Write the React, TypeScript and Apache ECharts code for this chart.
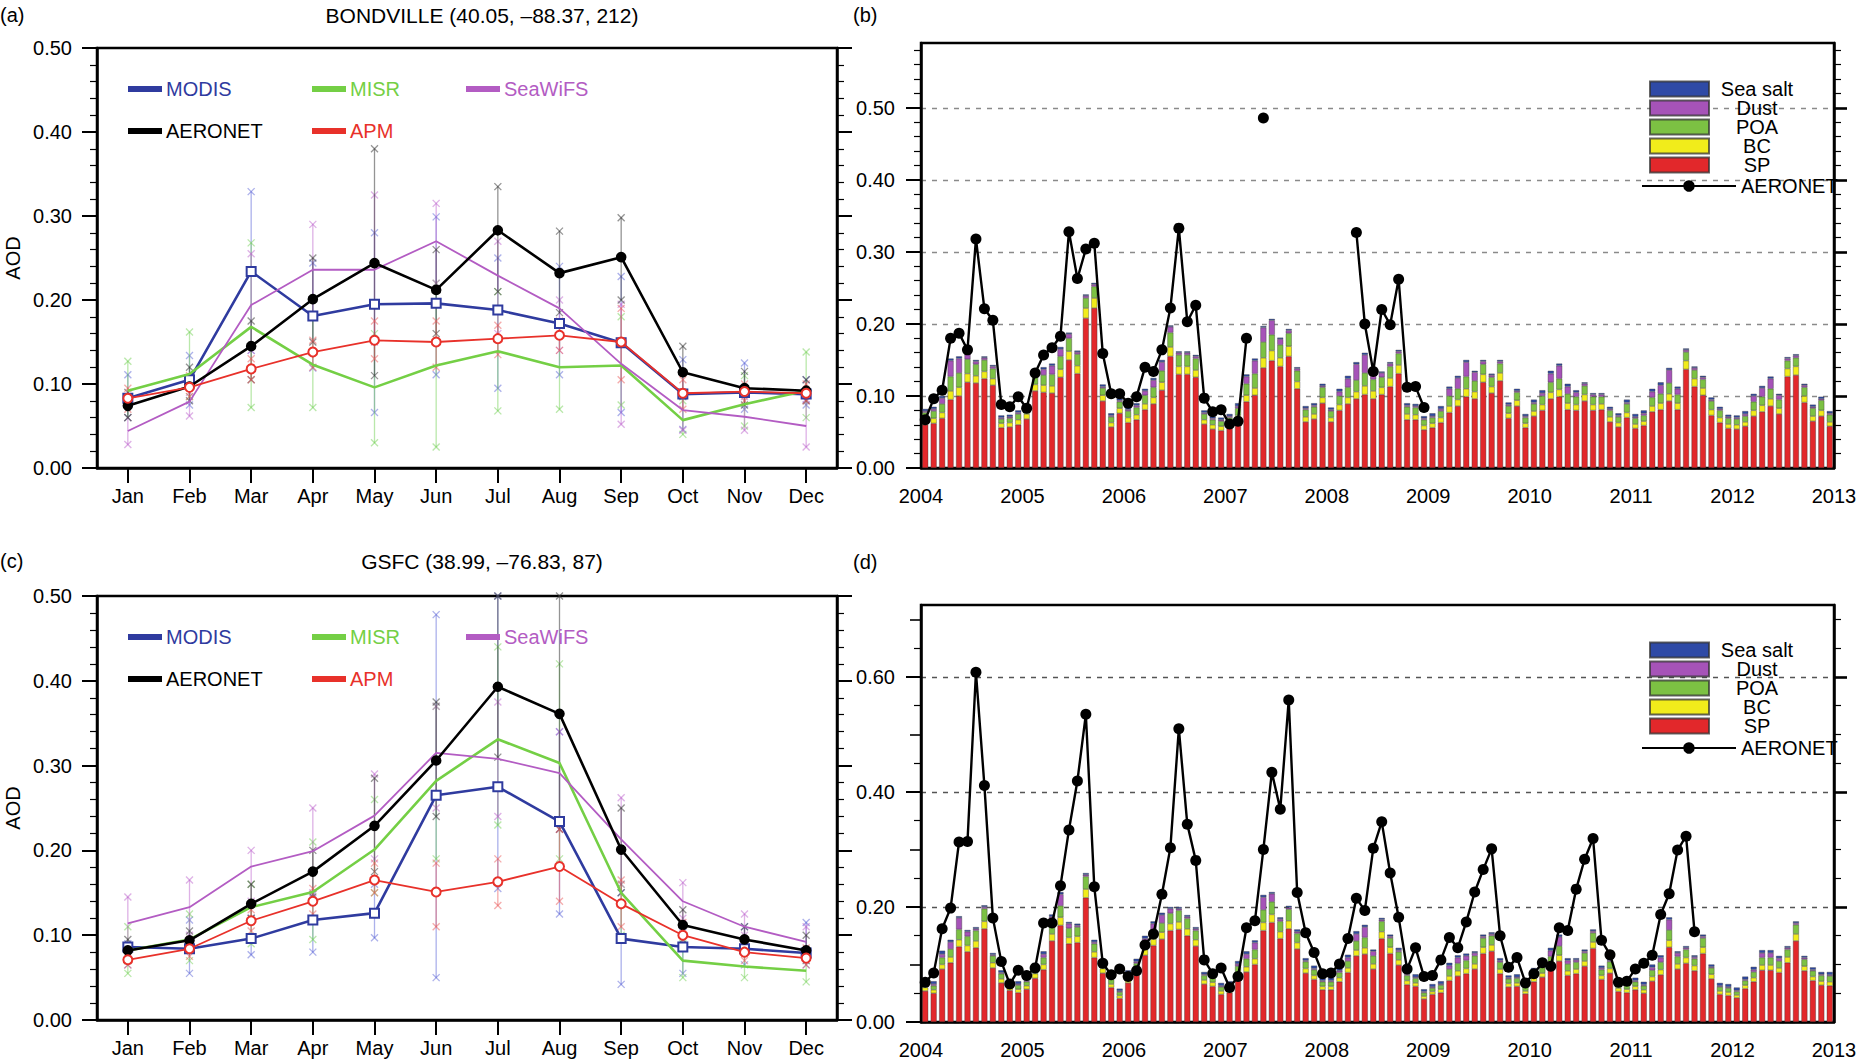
import React, { useEffect, useRef } from "react";
import * as echarts from "echarts";

const FONT = '"Liberation Sans", Arial, Helvetica, sans-serif';

// ---------- categories ----------
const MONTHS = ["Jan", "Feb", "Mar", "Apr", "May", "Jun", "Jul", "Aug", "Sep", "Oct", "Nov", "Dec"];
const YEARS = [2004, 2005, 2006, 2007, 2008, 2009, 2010, 2011, 2012];
const YEAR_MONTHS = YEARS.flatMap((y) => MONTHS.map((m) => `${m} ${y}`));

// ---------- panel (a) BONDVILLE monthly climatology ----------
const A_MODIS = [0.083, 0.105, 0.234, 0.181, 0.195, 0.196, 0.188, 0.172, 0.149, 0.088, 0.09, 0.088];
const A_MISR = [0.092, 0.112, 0.168, 0.123, 0.096, 0.122, 0.139, 0.12, 0.122, 0.057, 0.076, 0.092];
const A_SEAWIFS = [0.044, 0.079, 0.194, 0.236, 0.236, 0.27, 0.229, 0.19, 0.124, 0.069, 0.061, 0.05];
const A_AERONET = [0.074, 0.097, 0.145, 0.201, 0.244, 0.212, 0.283, 0.232, 0.251, 0.114, 0.095, 0.092];
const A_APM = [0.083, 0.096, 0.118, 0.138, 0.152, 0.15, 0.154, 0.158, 0.15, 0.089, 0.091, 0.089];

const A_MODIS_LO = [0.06, 0.075, 0.14, 0.119, 0.066, 0.111, 0.095, 0.111, 0.066, 0.046, 0.07, 0.075];
const A_MODIS_HI = [0.111, 0.134, 0.329, 0.244, 0.28, 0.299, 0.25, 0.24, 0.228, 0.129, 0.125, 0.105];
const A_MISR_LO = [0.06, 0.085, 0.072, 0.072, 0.03, 0.025, 0.068, 0.07, 0.075, 0.04, 0.05, 0.06];
const A_MISR_HI = [0.127, 0.162, 0.268, 0.18, 0.16, 0.22, 0.21, 0.17, 0.18, 0.08, 0.11, 0.138];
const A_SEAWIFS_LO = [0.028, 0.062, 0.14, 0.18, 0.15, 0.22, 0.16, 0.14, 0.052, 0.045, 0.045, 0.025];
const A_SEAWIFS_HI = [0.06, 0.09, 0.255, 0.29, 0.325, 0.315, 0.27, 0.2, 0.195, 0.09, 0.085, 0.082];
const A_AERONET_LO = [0.06, 0.08, 0.105, 0.15, 0.11, 0.16, 0.21, 0.185, 0.2, 0.085, 0.075, 0.08];
const A_AERONET_HI = [0.09, 0.12, 0.175, 0.25, 0.38, 0.26, 0.335, 0.282, 0.298, 0.145, 0.115, 0.105];
const A_APM_LO = [0.07, 0.085, 0.105, 0.12, 0.13, 0.12, 0.135, 0.14, 0.105, 0.07, 0.08, 0.08];
const A_APM_HI = [0.095, 0.11, 0.13, 0.152, 0.175, 0.175, 0.17, 0.175, 0.19, 0.105, 0.1, 0.1];

// ---------- panel (c) GSFC monthly climatology ----------
const C_MODIS = [0.086, 0.084, 0.096, 0.118, 0.126, 0.265, 0.275, 0.234, 0.096, 0.086, 0.084, 0.079];
const C_MISR = [0.082, 0.095, 0.133, 0.151, 0.201, 0.282, 0.331, 0.303, 0.15, 0.07, 0.063, 0.058];
const C_SEAWIFS = [0.114, 0.133, 0.181, 0.199, 0.241, 0.315, 0.308, 0.291, 0.213, 0.14, 0.11, 0.092];
const C_AERONET = [0.082, 0.094, 0.137, 0.175, 0.229, 0.306, 0.393, 0.361, 0.201, 0.112, 0.095, 0.082];
const C_APM = [0.071, 0.084, 0.117, 0.14, 0.165, 0.151, 0.163, 0.181, 0.137, 0.1, 0.08, 0.073];

const C_MODIS_LO = [0.065, 0.055, 0.077, 0.08, 0.097, 0.05, 0.155, 0.125, 0.042, 0.055, 0.065, 0.065];
const C_MODIS_HI = [0.09, 0.118, 0.12, 0.148, 0.16, 0.478, 0.5, 0.34, 0.15, 0.11, 0.11, 0.115];
const C_MISR_LO = [0.055, 0.07, 0.09, 0.095, 0.15, 0.19, 0.23, 0.19, 0.1, 0.05, 0.05, 0.045];
const C_MISR_HI = [0.11, 0.125, 0.16, 0.21, 0.26, 0.37, 0.44, 0.42, 0.16, 0.09, 0.08, 0.075];
const C_SEAWIFS_LO = [0.085, 0.1, 0.14, 0.15, 0.19, 0.25, 0.24, 0.225, 0.16, 0.12, 0.1, 0.08];
const C_SEAWIFS_HI = [0.145, 0.165, 0.2, 0.25, 0.29, 0.37, 0.375, 0.34, 0.262, 0.162, 0.125, 0.11];
const C_AERONET_LO = [0.07, 0.085, 0.12, 0.145, 0.175, 0.24, 0.31, 0.225, 0.15, 0.095, 0.085, 0.07];
const C_AERONET_HI = [0.095, 0.105, 0.16, 0.2, 0.285, 0.375, 0.5, 0.5, 0.25, 0.13, 0.11, 0.1];
const C_APM_LO = [0.065, 0.075, 0.105, 0.125, 0.15, 0.11, 0.135, 0.14, 0.11, 0.085, 0.07, 0.065];
const C_APM_HI = [0.08, 0.095, 0.13, 0.155, 0.185, 0.185, 0.19, 0.225, 0.165, 0.115, 0.095, 0.085];

// ---------- panel (b) BONDVILLE monthly 2004-2012 ----------
const B_SP = [
  0.06, 0.062, 0.069, 0.095, 0.1, 0.119, 0.118, 0.124, 0.115, 0.056, 0.057, 0.06,
  0.068, 0.107, 0.105, 0.104, 0.126, 0.15, 0.131, 0.208, 0.222, 0.093, 0.057, 0.076,
  0.063, 0.067, 0.081, 0.089, 0.108, 0.155, 0.13, 0.13, 0.126, 0.061, 0.054, 0.052,
  0.056, 0.066, 0.092, 0.101, 0.139, 0.149, 0.141, 0.155, 0.11, 0.064, 0.068, 0.09,
  0.064, 0.08, 0.089, 0.096, 0.102, 0.096, 0.102, 0.113, 0.131, 0.067, 0.067, 0.053,
  0.056, 0.063, 0.077, 0.086, 0.099, 0.096, 0.119, 0.104, 0.121, 0.069, 0.086, 0.056,
  0.072, 0.08, 0.096, 0.099, 0.081, 0.08, 0.093, 0.08, 0.081, 0.064, 0.057, 0.07,
  0.055, 0.059, 0.078, 0.081, 0.093, 0.081, 0.137, 0.113, 0.101, 0.073, 0.063, 0.055,
  0.054, 0.058, 0.072, 0.078, 0.086, 0.075, 0.127, 0.129, 0.091, 0.065, 0.072, 0.058,
];
const B_BC = [
  0.007, 0.007, 0.008, 0.012, 0.012, 0.012, 0.01, 0.01, 0.009, 0.006, 0.006, 0.007,
  0.007, 0.009, 0.01, 0.01, 0.011, 0.012, 0.011, 0.014, 0.014, 0.008, 0.006, 0.007,
  0.007, 0.007, 0.008, 0.009, 0.011, 0.013, 0.011, 0.011, 0.01, 0.006, 0.006, 0.006,
  0.006, 0.007, 0.009, 0.01, 0.014, 0.014, 0.012, 0.014, 0.01, 0.007, 0.007, 0.008,
  0.006, 0.008, 0.009, 0.01, 0.012, 0.011, 0.01, 0.012, 0.012, 0.008, 0.007, 0.006,
  0.006, 0.007, 0.009, 0.009, 0.011, 0.01, 0.011, 0.009, 0.011, 0.007, 0.008, 0.006,
  0.007, 0.008, 0.009, 0.01, 0.009, 0.008, 0.009, 0.008, 0.008, 0.007, 0.006, 0.007,
  0.006, 0.006, 0.008, 0.009, 0.01, 0.009, 0.012, 0.011, 0.01, 0.008, 0.007, 0.006,
  0.006, 0.006, 0.008, 0.009, 0.01, 0.008, 0.011, 0.012, 0.009, 0.007, 0.008, 0.006,
];
const B_POA = [
  0.01, 0.01, 0.012, 0.02, 0.02, 0.02, 0.016, 0.016, 0.014, 0.006, 0.006, 0.008,
  0.008, 0.012, 0.014, 0.016, 0.018, 0.018, 0.016, 0.014, 0.016, 0.01, 0.008, 0.009,
  0.009, 0.01, 0.012, 0.014, 0.016, 0.02, 0.016, 0.016, 0.016, 0.008, 0.007, 0.007,
  0.008, 0.01, 0.016, 0.02, 0.022, 0.022, 0.018, 0.018, 0.015, 0.01, 0.01, 0.014,
  0.009, 0.012, 0.014, 0.016, 0.018, 0.016, 0.014, 0.016, 0.016, 0.01, 0.01, 0.008,
  0.008, 0.009, 0.014, 0.015, 0.017, 0.015, 0.014, 0.013, 0.013, 0.01, 0.011, 0.008,
  0.01, 0.012, 0.014, 0.015, 0.013, 0.011, 0.012, 0.011, 0.01, 0.009, 0.008, 0.012,
  0.008, 0.008, 0.012, 0.013, 0.015, 0.012, 0.012, 0.012, 0.012, 0.012, 0.01, 0.008,
  0.008, 0.008, 0.012, 0.012, 0.014, 0.012, 0.011, 0.012, 0.012, 0.011, 0.014, 0.01,
];
const B_DUST = [
  0.002, 0.003, 0.008, 0.022, 0.02, 0.012, 0.004, 0.003, 0.003, 0.002, 0.002, 0.002,
  0.002, 0.004, 0.008, 0.012, 0.01, 0.006, 0.003, 0.003, 0.003, 0.002, 0.002, 0.002,
  0.002, 0.003, 0.006, 0.01, 0.012, 0.008, 0.003, 0.003, 0.003, 0.002, 0.002, 0.002,
  0.002, 0.003, 0.01, 0.018, 0.02, 0.02, 0.008, 0.004, 0.003, 0.002, 0.002, 0.002,
  0.002, 0.006, 0.012, 0.022, 0.025, 0.015, 0.006, 0.004, 0.003, 0.002, 0.002, 0.002,
  0.002, 0.003, 0.01, 0.015, 0.02, 0.012, 0.004, 0.003, 0.003, 0.002, 0.002, 0.002,
  0.002, 0.004, 0.012, 0.018, 0.01, 0.006, 0.003, 0.003, 0.003, 0.002, 0.002, 0.002,
  0.002, 0.003, 0.008, 0.012, 0.018, 0.008, 0.003, 0.003, 0.003, 0.002, 0.002, 0.002,
  0.002, 0.003, 0.008, 0.012, 0.014, 0.006, 0.003, 0.003, 0.003, 0.002, 0.002, 0.002,
];
const B_SS = [
  0.003, 0.003, 0.003, 0.003, 0.003, 0.002, 0.002, 0.002, 0.002, 0.003, 0.003, 0.003,
  0.003, 0.003, 0.003, 0.003, 0.003, 0.002, 0.002, 0.002, 0.002, 0.003, 0.003, 0.003,
  0.004, 0.003, 0.003, 0.003, 0.003, 0.002, 0.002, 0.002, 0.002, 0.003, 0.003, 0.003,
  0.003, 0.004, 0.003, 0.003, 0.002, 0.002, 0.002, 0.002, 0.002, 0.003, 0.003, 0.003,
  0.003, 0.004, 0.004, 0.003, 0.003, 0.002, 0.002, 0.002, 0.002, 0.003, 0.003, 0.003,
  0.004, 0.004, 0.003, 0.003, 0.003, 0.002, 0.002, 0.002, 0.002, 0.003, 0.003, 0.003,
  0.004, 0.004, 0.004, 0.003, 0.004, 0.003, 0.002, 0.002, 0.002, 0.003, 0.003, 0.004,
  0.004, 0.004, 0.004, 0.004, 0.003, 0.003, 0.002, 0.002, 0.002, 0.003, 0.003, 0.003,
  0.003, 0.004, 0.003, 0.003, 0.003, 0.002, 0.002, 0.002, 0.002, 0.003, 0.003, 0.003,
];
const B_AERONET = [
  0.067, 0.096, 0.108, 0.18, 0.187, 0.164, 0.318, 0.221, 0.205, 0.088, 0.085, 0.099,
  0.083, 0.132, 0.157, 0.167, 0.183, 0.328, 0.263, 0.304, 0.312, 0.159, 0.103, 0.103,
  0.09, 0.099, 0.14, 0.134, 0.164, 0.222, 0.333, 0.203, 0.226, 0.097, 0.078, 0.081,
  0.061, 0.065, 0.18, null, 0.486, null, null, null, null, null, null, null,
  null, null, null, 0.327, 0.2, 0.134, 0.22, 0.199, 0.262, 0.112, 0.113, 0.084,
  null, null, null, null, null, null, null, null, null, null, null, null,
  null, null, null, null, null, null, null, null, null, null, null, null,
  null, null, null, null, null, null, null, null, null, null, null, null,
  null, null, null, null, null, null, null, null, null, null, null, null,
];

// ---------- panel (d) GSFC monthly 2004-2012 ----------
const D_SP = [
  0.054, 0.05, 0.092, 0.103, 0.131, 0.122, 0.129, 0.162, 0.094, 0.068, 0.055, 0.051,
  0.057, 0.076, 0.091, 0.141, 0.168, 0.136, 0.138, 0.216, 0.112, 0.085, 0.06, 0.041,
  0.068, 0.084, 0.116, 0.133, 0.144, 0.159, 0.161, 0.15, 0.132, 0.066, 0.062, 0.048,
  0.051, 0.077, 0.087, 0.1, 0.159, 0.173, 0.145, 0.162, 0.127, 0.085, 0.074, 0.056,
  0.056, 0.07, 0.086, 0.115, 0.118, 0.092, 0.145, 0.119, 0.099, 0.065, 0.062, 0.04,
  0.048, 0.051, 0.072, 0.08, 0.084, 0.092, 0.119, 0.123, 0.084, 0.061, 0.062, 0.049,
  0.07, 0.078, 0.092, 0.106, 0.081, 0.084, 0.097, 0.128, 0.074, 0.085, 0.053, 0.051,
  0.056, 0.05, 0.071, 0.082, 0.13, 0.092, 0.102, 0.089, 0.119, 0.075, 0.048, 0.046,
  0.042, 0.058, 0.07, 0.09, 0.09, 0.086, 0.103, 0.141, 0.089, 0.072, 0.064, 0.063,
];
const D_BC = [
  0.006, 0.006, 0.008, 0.01, 0.012, 0.011, 0.012, 0.013, 0.009, 0.007, 0.006, 0.006,
  0.006, 0.008, 0.009, 0.012, 0.014, 0.011, 0.011, 0.015, 0.01, 0.008, 0.006, 0.005,
  0.007, 0.008, 0.01, 0.011, 0.012, 0.012, 0.013, 0.012, 0.011, 0.007, 0.007, 0.006,
  0.006, 0.008, 0.009, 0.01, 0.014, 0.014, 0.012, 0.014, 0.011, 0.008, 0.007, 0.006,
  0.006, 0.007, 0.008, 0.01, 0.011, 0.009, 0.012, 0.011, 0.009, 0.007, 0.006, 0.005,
  0.005, 0.006, 0.008, 0.009, 0.009, 0.009, 0.011, 0.011, 0.008, 0.006, 0.006, 0.005,
  0.007, 0.007, 0.009, 0.01, 0.008, 0.008, 0.009, 0.011, 0.007, 0.008, 0.006, 0.006,
  0.006, 0.006, 0.008, 0.009, 0.012, 0.009, 0.01, 0.009, 0.011, 0.008, 0.006, 0.006,
  0.005, 0.006, 0.007, 0.009, 0.009, 0.008, 0.01, 0.012, 0.008, 0.007, 0.007, 0.007,
];
const D_POA = [
  0.007, 0.007, 0.012, 0.014, 0.018, 0.016, 0.018, 0.022, 0.012, 0.009, 0.007, 0.007,
  0.007, 0.01, 0.012, 0.016, 0.02, 0.016, 0.016, 0.022, 0.014, 0.01, 0.008, 0.006,
  0.008, 0.01, 0.013, 0.015, 0.016, 0.018, 0.02, 0.018, 0.016, 0.008, 0.008, 0.007,
  0.007, 0.012, 0.014, 0.016, 0.022, 0.022, 0.018, 0.02, 0.016, 0.012, 0.01, 0.008,
  0.008, 0.009, 0.012, 0.016, 0.018, 0.014, 0.018, 0.016, 0.014, 0.009, 0.008, 0.006,
  0.006, 0.007, 0.012, 0.013, 0.014, 0.014, 0.016, 0.016, 0.012, 0.008, 0.008, 0.007,
  0.009, 0.01, 0.013, 0.016, 0.012, 0.012, 0.014, 0.016, 0.01, 0.012, 0.008, 0.007,
  0.008, 0.007, 0.011, 0.013, 0.018, 0.013, 0.014, 0.012, 0.016, 0.011, 0.007, 0.007,
  0.006, 0.008, 0.01, 0.013, 0.013, 0.012, 0.013, 0.016, 0.012, 0.01, 0.01, 0.01,
];
const D_DUST = [
  0.002, 0.003, 0.006, 0.012, 0.02, 0.008, 0.003, 0.003, 0.002, 0.002, 0.002, 0.002,
  0.002, 0.004, 0.006, 0.014, 0.02, 0.008, 0.003, 0.003, 0.003, 0.002, 0.002, 0.002,
  0.002, 0.003, 0.006, 0.012, 0.014, 0.008, 0.003, 0.003, 0.003, 0.002, 0.002, 0.002,
  0.002, 0.004, 0.008, 0.012, 0.022, 0.014, 0.004, 0.003, 0.003, 0.002, 0.002, 0.002,
  0.002, 0.003, 0.006, 0.012, 0.018, 0.008, 0.003, 0.003, 0.003, 0.002, 0.002, 0.002,
  0.002, 0.002, 0.006, 0.01, 0.008, 0.005, 0.003, 0.003, 0.003, 0.002, 0.002, 0.002,
  0.002, 0.003, 0.01, 0.016, 0.006, 0.004, 0.003, 0.003, 0.003, 0.002, 0.002, 0.002,
  0.002, 0.002, 0.005, 0.008, 0.018, 0.006, 0.003, 0.003, 0.003, 0.002, 0.002, 0.002,
  0.002, 0.002, 0.004, 0.008, 0.008, 0.005, 0.003, 0.003, 0.003, 0.002, 0.002, 0.002,
];
const D_SS = [
  0.005, 0.005, 0.006, 0.004, 0.003, 0.003, 0.003, 0.003, 0.003, 0.004, 0.004, 0.005,
  0.005, 0.005, 0.005, 0.004, 0.004, 0.003, 0.003, 0.003, 0.004, 0.005, 0.005, 0.004,
  0.005, 0.005, 0.005, 0.004, 0.004, 0.003, 0.003, 0.003, 0.003, 0.004, 0.005, 0.005,
  0.005, 0.005, 0.005, 0.004, 0.004, 0.003, 0.003, 0.003, 0.004, 0.004, 0.005, 0.005,
  0.005, 0.005, 0.005, 0.005, 0.004, 0.003, 0.003, 0.003, 0.004, 0.004, 0.005, 0.004,
  0.005, 0.005, 0.005, 0.004, 0.004, 0.003, 0.003, 0.003, 0.004, 0.004, 0.005, 0.005,
  0.006, 0.005, 0.005, 0.004, 0.004, 0.003, 0.003, 0.003, 0.004, 0.004, 0.005, 0.005,
  0.005, 0.005, 0.005, 0.004, 0.004, 0.003, 0.003, 0.003, 0.003, 0.004, 0.005, 0.005,
  0.005, 0.005, 0.005, 0.005, 0.005, 0.004, 0.003, 0.003, 0.003, 0.004, 0.004, 0.005,
];
const D_AERONET = [
  0.069, 0.085, 0.162, 0.198, 0.313, 0.314, 0.608, 0.411, 0.181, 0.105, 0.066, 0.09,
  0.081, 0.094, 0.172, 0.172, 0.237, 0.334, 0.419, 0.535, 0.235, 0.102, 0.082, 0.092,
  0.079, 0.089, 0.134, 0.153, 0.222, 0.303, 0.51, 0.344, 0.281, 0.108, 0.084, 0.094,
  0.06, 0.079, 0.164, 0.176, 0.3, 0.434, 0.37, 0.56, 0.225, 0.155, 0.121, 0.084,
  0.085, 0.101, 0.145, 0.215, 0.194, 0.302, 0.348, 0.259, 0.182, 0.092, 0.129, 0.079,
  0.081, 0.108, 0.147, 0.129, 0.174, 0.226, 0.265, 0.301, 0.15, 0.095, 0.112, 0.068,
  0.084, 0.103, 0.097, 0.164, 0.159, 0.231, 0.283, 0.319, 0.142, 0.117, 0.069, 0.071,
  0.092, 0.102, 0.116, 0.187, 0.223, 0.299, 0.323, 0.157, null, null, null, null,
  null, null, null, null, null, null, null, null, null, null, null, null,
];

// ---------- tick labels ----------
const AC_TICKS = [0, 0.1, 0.2, 0.3, 0.4, 0.5];
const B_TICKS = [0, 0.1, 0.2, 0.3, 0.4, 0.5];
const D_TICKS = [0, 0.2, 0.4, 0.6];

// ---------- styles ----------
const SAT_STYLE = [
  { name: "MODIS", color: "#2f3b9f", err: "rgba(90,100,215,0.5)", width: 2.6, symbol: "emptyRect", size: 9 },
  { name: "MISR", color: "#74cf45", err: "rgba(115,210,85,0.5)", width: 2.6, symbol: "none", size: 0 },
  { name: "SeaWiFS", color: "#b35cc3", err: "rgba(190,100,205,0.5)", width: 1.8, symbol: "none", size: 0 },
  { name: "AERONET", color: "#000000", err: "rgba(60,60,60,0.55)", width: 2.6, symbol: "circle", size: 9 },
  { name: "APM", color: "#e8312a", err: "rgba(235,90,90,0.5)", width: 1.8, symbol: "emptyCircle", size: 9 },
];
const COMP_STYLE = [
  { name: "SP", color: "#e2282b" },
  { name: "BC", color: "#f1ec1b" },
  { name: "POA", color: "#7cc143" },
  { name: "Dust", color: "#a653b8" },
  { name: "Sea salt", color: "#2f4aa6" },
];

const fmt2 = (v: number) => v.toFixed(2);
const steps = (step: number, max: number, skip: number) => {
  const out: number[] = [];
  for (let k = 1; k * step <= max + 1e-9; k++) {
    const v = Number((k * step).toFixed(3));
    if (skip > 0 && Math.abs(v / skip - Math.round(v / skip)) < 1e-6) continue;
    out.push(v);
  }
  return out;
};

const errRender = (color: string) => (params: any, api: any) => {
  const i = api.value(0);
  const p1 = api.coord([i, api.value(1)]);
  const p2 = api.coord([i, api.value(2)]);
  const s = 3.5;
  const st = { stroke: color, lineWidth: 1.3, fill: null };
  const cross = (p: number[]) => [
    { type: "line", shape: { x1: p[0] - s, y1: p[1] - s, x2: p[0] + s, y2: p[1] + s }, style: st },
    { type: "line", shape: { x1: p[0] - s, y1: p[1] + s, x2: p[0] + s, y2: p[1] - s }, style: st },
  ];
  return {
    type: "group",
    children: [
      { type: "line", shape: { x1: p1[0], y1: p1[1], x2: p2[0], y2: p2[1] }, style: st },
      ...cross(p1),
      ...cross(p2),
    ],
  };
};

function buildOption() {
  const black = "#000";
  const axisLine = { show: true, lineStyle: { color: black, width: 2.5 } };

  const monthAxis = (gridIndex: number) => ({
    gridIndex,
    type: "category",
    data: MONTHS,
    boundaryGap: true,
    axisLine,
    axisTick: { show: true, alignWithLabel: true, length: 15, lineStyle: { color: black, width: 2 } },
    axisLabel: { fontSize: 20, color: black, margin: 18, fontFamily: FONT },
    splitLine: { show: false },
  });
  const barCatAxis = (gridIndex: number) => ({
    gridIndex,
    type: "category",
    data: YEAR_MONTHS,
    boundaryGap: true,
    position: "bottom",
    axisLine,
    axisTick: { show: false },
    axisLabel: { show: false },
    splitLine: { show: false },
  });
  const yearAxis = (gridIndex: number) => ({
    gridIndex,
    type: "value",
    min: 2004,
    max: 2013,
    interval: 1,
    position: "bottom",
    axisLine: { show: false },
    axisTick: { show: false },
    splitLine: { show: false },
    axisLabel: { fontSize: 20, color: black, margin: 18, fontFamily: FONT, formatter: (v: number) => String(Math.round(v)) },
  });

  const acAxes = (gridIndex: number) => [
    {
      gridIndex,
      type: "value",
      position: "left",
      min: 0,
      max: 0.5,
      interval: 0.1,
      axisLine,
      axisTick: { show: true, length: 15, lineStyle: { color: black, width: 2 } },
      minorTick: { show: true, splitNumber: 5, length: 7, lineStyle: { color: black, width: 1.2 } },
      splitLine: { show: false },
      axisLabel: { fontSize: 20, color: black, margin: 25, fontFamily: FONT, formatter: fmt2, customValues: AC_TICKS },
      name: "AOD",
      nameLocation: "middle",
      nameGap: 74,
      nameTextStyle: { fontSize: 20, color: black, fontFamily: FONT },
    },
    {
      gridIndex,
      type: "value",
      position: "right",
      min: 0,
      max: 0.5,
      interval: 0.1,
      axisLine,
      axisTick: { show: true, length: 15, lineStyle: { color: black, width: 2 } },
      minorTick: { show: true, splitNumber: 5, length: 7, lineStyle: { color: black, width: 1.2 } },
      splitLine: { show: false },
      axisLabel: { show: false },
    },
  ];

  const tickAxis = (gridIndex: number, position: string, max: number, interval: number, values: number[], length: number, width: number, line: boolean) => ({
    gridIndex,
    type: "value",
    position,
    min: 0,
    max,
    interval,
    axisLine: line ? axisLine : { show: false },
    axisTick: { show: true, length, customValues: values, lineStyle: { color: black, width } },
    axisLabel: { show: false },
    splitLine: { show: false },
  });

  const mainBarAxis = (gridIndex: number, max: number, interval: number, ticks: number[], gridColor: string) => ({
    gridIndex,
    type: "value",
    position: "left",
    min: 0,
    max,
    interval,
    axisLine,
    axisTick: { show: true, length: 15, customValues: ticks, lineStyle: { color: black, width: 2 } },
    axisLabel: {
      fontSize: 20,
      color: black,
      margin: 26,
      fontFamily: FONT,
      customValues: ticks,
      formatter: (v: number) => (ticks.some((t) => Math.abs(t - v) < 1e-6) ? fmt2(v) : ""),
    },
    splitLine: { show: true, lineStyle: { color: gridColor, width: 1.3, type: [5, 6] } },
  });

  const yAxis = [
    ...acAxes(0), // 0,1
    mainBarAxis(1, 0.59, 0.1, B_TICKS, "#8a8a8a"), // 2
    tickAxis(1, "left", 0.59, 0.02, steps(0.02, 0.59, 0.1), 7, 1.2, false), // 3
    tickAxis(1, "right", 0.59, 0.1, steps(0.1, 0.59, 0), 13, 2.6, true), // 4
    tickAxis(1, "right", 0.59, 0.02, steps(0.02, 0.59, 0.1), 7, 1.2, false), // 5
    ...acAxes(2), // 6,7
    mainBarAxis(3, 0.725, 0.2, D_TICKS, "#555"), // 8
    tickAxis(3, "left", 0.725, 0.1, steps(0.1, 0.725, 0.2), 11, 1.6, false), // 9
    tickAxis(3, "left", 0.725, 0.05, steps(0.05, 0.725, 0.1), 7, 1.2, false), // 10
    tickAxis(3, "right", 0.725, 0.2, steps(0.2, 0.725, 0), 13, 2.6, true), // 11
    tickAxis(3, "right", 0.725, 0.05, steps(0.05, 0.725, 0.2), 7, 1.2, false), // 12
  ];

  const xAxis = [monthAxis(0), barCatAxis(1), yearAxis(1), monthAxis(2), barCatAxis(3), yearAxis(3)];

  const grid = [
    { left: 97, top: 48, width: 740, height: 420 },
    { left: 921, top: 43, width: 913, height: 425 },
    { left: 97, top: 596, width: 740, height: 424 },
    { left: 921, top: 605, width: 913, height: 417 },
  ].map((g) => ({ ...g, show: true, borderColor: black, borderWidth: 2.5, backgroundColor: "transparent", containLabel: false }));

  const series: any[] = [];

  const climPanel = (xi: number, yi: number, lines: number[][], lo: number[][], hi: number[][]) => {
    SAT_STYLE.forEach((s, k) => {
      series.push({
        type: "custom",
        name: `${s.name} range`,
        xAxisIndex: xi,
        yAxisIndex: yi,
        renderItem: errRender(s.err),
        encode: { x: 0, y: [1, 2] },
        data: lo[k].map((l, i) => [i, l, hi[k][i]]),
        itemStyle: { color: s.color },
        z: 1,
        silent: true,
      });
    });
    SAT_STYLE.forEach((s, k) => {
      series.push({
        type: "line",
        name: s.name,
        xAxisIndex: xi,
        yAxisIndex: yi,
        data: lines[k],
        color: s.color,
        symbol: s.symbol,
        symbolSize: s.size,
        showAllSymbol: true,
        lineStyle: { width: s.width, color: s.color },
        itemStyle: { color: s.color, borderColor: s.color, borderWidth: 1.6 },
        z: 3 + k,
      });
    });
  };

  climPanel(
    0,
    0,
    [A_MODIS, A_MISR, A_SEAWIFS, A_AERONET, A_APM],
    [A_MODIS_LO, A_MISR_LO, A_SEAWIFS_LO, A_AERONET_LO, A_APM_LO],
    [A_MODIS_HI, A_MISR_HI, A_SEAWIFS_HI, A_AERONET_HI, A_APM_HI]
  );
  climPanel(
    3,
    6,
    [C_MODIS, C_MISR, C_SEAWIFS, C_AERONET, C_APM],
    [C_MODIS_LO, C_MISR_LO, C_SEAWIFS_LO, C_AERONET_LO, C_APM_LO],
    [C_MODIS_HI, C_MISR_HI, C_SEAWIFS_HI, C_AERONET_HI, C_APM_HI]
  );

  const barPanel = (xi: number, yi: number, stack: string, comps: number[][], aeronet: (number | null)[]) => {
    COMP_STYLE.forEach((c, k) => {
      series.push({
        type: "bar",
        name: c.name,
        xAxisIndex: xi,
        yAxisIndex: yi,
        stack,
        barWidth: 6,
        data: comps[k],
        color: c.color,
        itemStyle: { color: c.color, borderColor: "rgba(50,50,50,0.75)", borderWidth: 0.5 },
        z: 2,
      });
    });
    series.push({
      type: "line",
      name: "AERONET",
      xAxisIndex: xi,
      yAxisIndex: yi,
      data: aeronet,
      connectNulls: false,
      symbol: "circle",
      symbolSize: 11,
      showAllSymbol: true,
      color: "#000",
      lineStyle: { color: "#000", width: 2.4 },
      itemStyle: { color: "#000" },
      z: 5,
    });
  };
  barPanel(1, 2, "b", [B_SP, B_BC, B_POA, B_DUST, B_SS], B_AERONET);
  barPanel(4, 8, "d", [D_SP, D_BC, D_POA, D_DUST, D_SS], D_AERONET);

  const lineLegend = (name: string, color: string, left: number, top: number) => ({
    data: [{ name, textStyle: { color }, itemStyle: { color } }],
    left,
    top,
    icon: "rect",
    itemWidth: 32,
    itemHeight: 4,
    padding: 0,
    selectedMode: false,
    textStyle: { fontSize: 20, fontFamily: FONT, color },
  });
  const satLegends = (rowTop: number) => [
    lineLegend("MODIS", SAT_STYLE[0].color, 128, rowTop),
    lineLegend("MISR", SAT_STYLE[1].color, 312, rowTop),
    lineLegend("SeaWiFS", SAT_STYLE[2].color, 466, rowTop),
    lineLegend("AERONET", "#000", 128, rowTop + 42),
    lineLegend("APM", SAT_STYLE[4].color, 312, rowTop + 42),
  ];
  const compLegend = (top: number) => ({
    data: ["Sea salt", "Dust", "POA", "BC", "SP"],
    orient: "vertical",
    left: 1649,
    top,
    icon: "rect",
    itemWidth: 59,
    itemHeight: 15,
    itemGap: -1,
    padding: 0,
    selectedMode: false,
    formatter: "{t|{name}}",
    textStyle: {
      fontFamily: FONT,
      fontSize: 20,
      lineHeight: 15,
      color: "#000",
      rich: { t: { width: 86, align: "center", fontSize: 20, lineHeight: 15, fontFamily: FONT, color: "#000" } },
    },
  });
  const aerLegend = (top: number) => ({
    data: ["AERONET"],
    left: 1641,
    top,
    itemWidth: 94,
    itemHeight: 12,
    padding: 0,
    itemGap: 0,
    selectedMode: false,
    textStyle: { fontFamily: FONT, fontSize: 20, color: "#000" },
  });

  const legend = [...satLegends(79), ...satLegends(627), compLegend(79), aerLegend(176), compLegend(640), aerLegend(738)];

  const txt = (text: string, x: number, y: number, align: string, size: number) => ({
    type: "text",
    x,
    y,
    silent: true,
    style: { text, fill: "#000", font: `${size}px ${FONT}`, align, verticalAlign: "middle" },
  });
  const graphic = [
    txt("(a)", 0, 15, "left", 20),
    txt("BONDVILLE (40.05, \u201388.37, 212)", 482, 15, "center", 21),
    txt("(b)", 853, 15, "left", 20),
    txt("(c)", 0, 561, "left", 20),
    txt("GSFC (38.99, \u201376.83, 87)", 482, 561, "center", 21),
    txt("(d)", 853, 562, "left", 20),
  ];

  return {
    animation: false,
    backgroundColor: "#fff",
    textStyle: { fontFamily: FONT },
    grid,
    xAxis,
    yAxis,
    legend,
    graphic,
    series,
  };
}

export default function App() {
  const ref = useRef<HTMLDivElement>(null);
  useEffect(() => {
    document.body.style.margin = "0";
    const chart = echarts.init(ref.current!, undefined, { renderer: "svg" });
    chart.setOption(buildOption() as any);
    return () => chart.dispose();
  }, []);
  return <div ref={ref} style={{ width: 1863, height: 1063, background: "#fff" }} />;
}
